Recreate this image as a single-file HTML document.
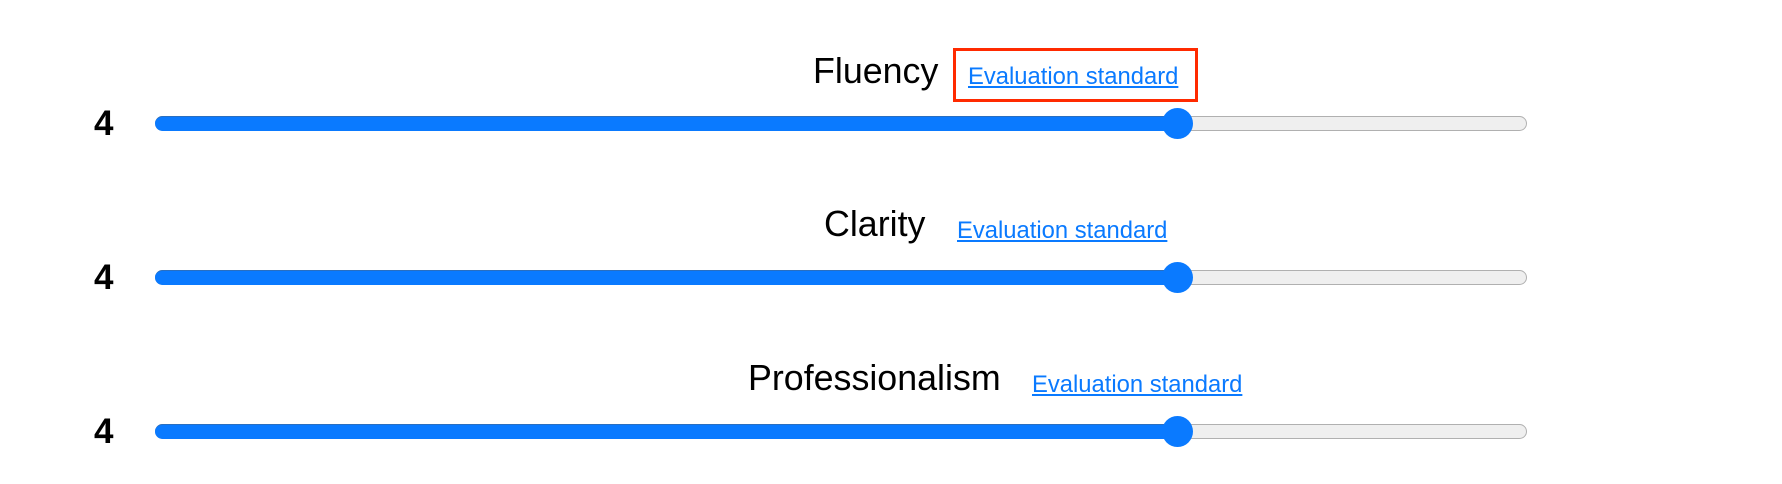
<!DOCTYPE html>
<html><head><style>
body{margin:0;width:1782px;height:484px;background:#fff;position:relative;overflow:hidden;font-family:"Liberation Sans",Arial,sans-serif}
.a{position:absolute;white-space:nowrap}
.lab{font-size:35.8px;color:#000;line-height:1}
.lnk{font-size:23.8px;color:#0a7aff;text-decoration:underline;line-height:1}
.num{font-size:35px;font-weight:bold;line-height:1}
.tr{position:absolute;left:155px;width:1372px;height:15px;background:#efefef;border:1px solid #b0b0b0;border-radius:8px;box-sizing:border-box}
.fill{position:absolute;left:155px;width:1023px;height:15px;background:#0a7aff;border-radius:8px 0 0 8px;border-top:1px solid #2a6fc0;box-sizing:border-box}
.th{position:absolute;width:31px;height:31px;border-radius:50%;background:#0a7aff;left:1162px}
.box{position:absolute;left:953px;top:48px;width:245px;height:54px;border:3px solid #ff2a00;box-sizing:border-box}
</style></head><body>
<div class="a lab" style="left:813px;top:54px">Fluency</div>
<div class="box"></div>
<div class="a lnk" style="left:968px;top:65px">Evaluation standard</div>
<div class="a num" style="left:94px;top:106px">4</div>
<div class="tr" style="top:116px"></div><div class="fill" style="top:116px"></div>
<div class="th" style="top:108px"></div>

<div class="a lab" style="left:824px;top:207px">Clarity</div>
<div class="a lnk" style="left:957px;top:219px">Evaluation standard</div>
<div class="a num" style="left:94px;top:260px">4</div>
<div class="tr" style="top:270px"></div><div class="fill" style="top:270px"></div>
<div class="th" style="top:262px"></div>

<div class="a lab" style="left:748px;top:361px">Professionalism</div>
<div class="a lnk" style="left:1032px;top:373px">Evaluation standard</div>
<div class="a num" style="left:94px;top:414px">4</div>
<div class="tr" style="top:424px"></div><div class="fill" style="top:424px"></div>
<div class="th" style="top:416px"></div>
</body></html>
